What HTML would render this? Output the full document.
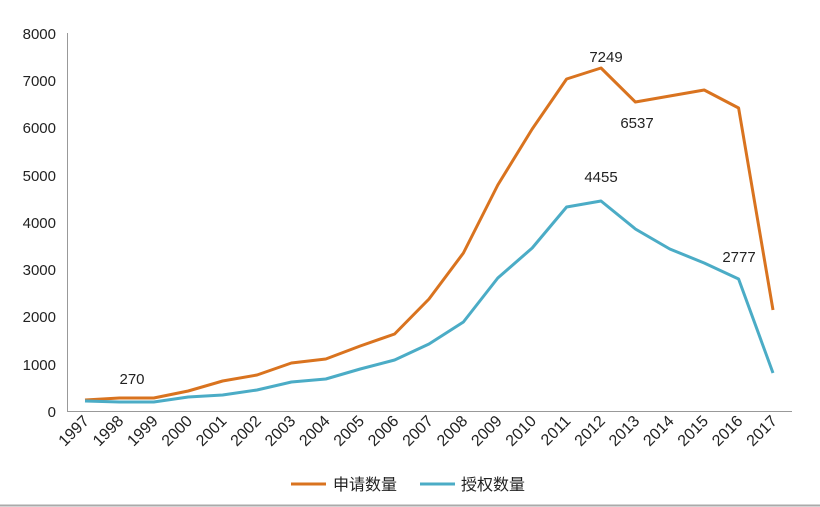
<!DOCTYPE html><html><head><meta charset="utf-8"><style>body{margin:0;background:#fff}svg{display:block}text{font-family:"Liberation Sans","Noto Sans CJK SC",sans-serif;fill:#222}</style></head><body>
<svg width="820" height="507" viewBox="0 0 820 507">
<rect width="820" height="507" fill="#fff"/>
<line x1="0" y1="505.5" x2="820" y2="505.5" stroke="#aaa" stroke-width="2"/>
<line x1="67.5" y1="33" x2="67.5" y2="412" stroke="#999"/>
<line x1="67" y1="411.5" x2="792" y2="411.5" stroke="#999"/>
<g font-size="15" text-anchor="end">
<text x="56" y="39">8000</text><text x="56" y="86">7000</text><text x="56" y="133">6000</text><text x="56" y="181">5000</text><text x="56" y="228">4000</text><text x="56" y="275">3000</text><text x="56" y="322">2000</text><text x="56" y="370">1000</text><text x="56" y="417">0</text>
</g>
<g font-size="16" text-anchor="end">
<text transform="translate(90,422) rotate(-45)">1997</text>
<text transform="translate(124.4,422) rotate(-45)">1998</text>
<text transform="translate(158.8,422) rotate(-45)">1999</text>
<text transform="translate(193.2,422) rotate(-45)">2000</text>
<text transform="translate(227.6,422) rotate(-45)">2001</text>
<text transform="translate(262,422) rotate(-45)">2002</text>
<text transform="translate(296.4,422) rotate(-45)">2003</text>
<text transform="translate(330.8,422) rotate(-45)">2004</text>
<text transform="translate(365.2,422) rotate(-45)">2005</text>
<text transform="translate(399.6,422) rotate(-45)">2006</text>
<text transform="translate(434,422) rotate(-45)">2007</text>
<text transform="translate(468.4,422) rotate(-45)">2008</text>
<text transform="translate(502.8,422) rotate(-45)">2009</text>
<text transform="translate(537.2,422) rotate(-45)">2010</text>
<text transform="translate(571.6,422) rotate(-45)">2011</text>
<text transform="translate(606,422) rotate(-45)">2012</text>
<text transform="translate(640.4,422) rotate(-45)">2013</text>
<text transform="translate(674.8,422) rotate(-45)">2014</text>
<text transform="translate(709.2,422) rotate(-45)">2015</text>
<text transform="translate(743.6,422) rotate(-45)">2016</text>
<text transform="translate(778,422) rotate(-45)">2017</text>
</g>
<polyline fill="none" stroke="#d9731f" stroke-width="3" stroke-linejoin="round" points="85,400 119.4,398 153.8,398 188.2,391 222.6,381 257,375 291.4,363 325.8,359 360.2,346 394.6,334 429,299 463.4,253 497.8,185 532.2,129 566.6,79 601,68 635.4,102 669.8,96 704.2,90 738.6,108 773,310"/>
<polyline fill="none" stroke="#4bacc6" stroke-width="3" stroke-linejoin="round" points="85,401 119.4,402 153.8,402 188.2,397 222.6,395 257,390 291.4,382 325.8,379 360.2,369 394.6,360 429,344 463.4,322 497.8,278 532.2,248 566.6,207 601,201 635.4,229 669.8,249 704.2,263 738.6,279 773,373"/>
<g font-size="15" text-anchor="middle">
<text x="606" y="62">7249</text><text x="637" y="128">6537</text><text x="601" y="182">4455</text><text x="739" y="262">2777</text><text x="132" y="384">270</text>
</g>
<line x1="291" y1="484" x2="326" y2="484" stroke="#d9731f" stroke-width="3"/>
<text x="333" y="490" font-size="16">申请数量</text>
<line x1="420" y1="484" x2="455" y2="484" stroke="#4bacc6" stroke-width="3"/>
<text x="461" y="490" font-size="16">授权数量</text>
</svg></body></html>
